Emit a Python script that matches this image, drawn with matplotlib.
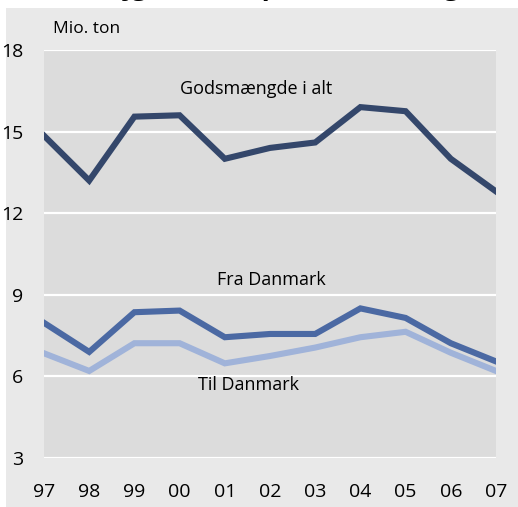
import matplotlib
matplotlib.use("Agg")
import matplotlib.pyplot as plt
import matplotlib.patches as patches

years = ["97", "98", "99", "00", "01", "02", "03", "04", "05", "06", "07"]
godsmaengde = [14.85, 13.2, 15.55, 15.6, 14.0, 14.4, 14.6, 15.9, 15.75, 14.0, 12.8]
fra_danmark = [7.97, 6.9, 8.36, 8.42, 7.44, 7.56, 7.56, 8.5, 8.15, 7.22, 6.55]
til_danmark = [6.85, 6.2, 7.22, 7.22, 6.48, 6.75, 7.06, 7.44, 7.64, 6.87, 6.2]
yticks = [3, 6, 9, 12, 15, 18]

plt.rcParams['font.family'] = ['Open Sans', 'DejaVu Sans']

fig = plt.figure(figsize=(5.18, 5.07), dpi=100, facecolor="white")

# grey background panel below the clipped title strip
fig.patches.append(patches.Rectangle((6 / 518, 0), 1, 499 / 507, transform=fig.transFigure,
                                     facecolor="#e9e9e9", edgecolor="none", zorder=-1))

# title, cut off at the top edge so only the descenders show
fig.text(0.52, 1.0 + 5 / 507, "Godsmængde ved vejgodstransport af dansk gods, i alt og pr. år",
         ha="center", va="baseline", fontsize=19, fontweight="bold", color="black")

ax = fig.add_axes([44 / 518, 49 / 507, 452 / 518, 408 / 507])
ax.set_zorder(2)
ax.set_facecolor("#dcdcdc")
x = list(range(len(years)))

ax.plot(x, godsmaengde, color="#34476b", lw=4.4, solid_joinstyle="miter", zorder=3)
ax.plot(x, fra_danmark, color="#4b69a3", lw=4.4, solid_joinstyle="miter", zorder=3)
ax.plot(x, til_danmark, color="#a0b3d9", lw=4.4, solid_joinstyle="miter", zorder=2)

ax.set_xlim(0, len(years) - 1)
ax.set_ylim(3, 18)
ax.set_yticks(yticks)
ax.set_xticks(x)
ax.set_xticklabels(years)
for s in ax.spines.values():
    s.set_visible(False)
ax.grid(axis="y", color="white", lw=1.6, zorder=1)
ax.set_axisbelow(True)
ax.tick_params(axis="both", length=0, labelsize=14, colors="black")
ax.tick_params(axis="y", pad=15)
ax.tick_params(axis="x", pad=18)

ax.text(4.69, 16.57, "Godsmængde i alt", ha="center", va="center", fontsize=13)
ax.text(5.04, 9.54, "Fra Danmark", ha="center", va="center", fontsize=13)
ax.text(4.52, 5.68, "Til Danmark", ha="center", va="center", fontsize=13)
fig.text(53 / 518, 1 - 29 / 507, "Mio. ton", ha="left", va="center", fontsize=12.5)

fig.savefig("out.png", dpi=100, facecolor="white")
